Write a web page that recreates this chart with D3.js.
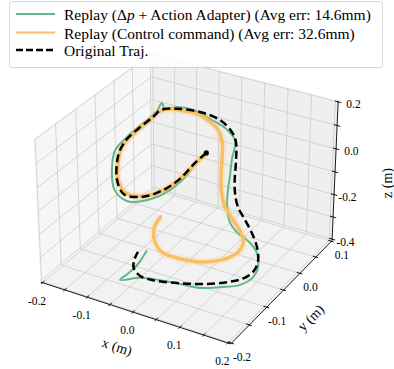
<!DOCTYPE html>
<html><head><meta charset="utf-8">
<script src="https://cdn.jsdelivr.net/npm/d3@7"></script>
<style>
body{margin:0;background:#fff}
svg{display:block}
text{font-family:"Liberation Serif","Times New Roman",serif;fill:#000}
</style>
</head><body>
<svg id="c" width="394" height="369"></svg>
<script>
// ---------------- data ----------------
const xLim = [-0.204, 0.206], yLim = [-0.202, 0.102], zLim = [-0.407, 0.204];
const xTicks = [-0.2,-0.15,-0.1,-0.05,0,0.05,0.1,0.15,0.2];
const xTickLabels = ["-0.2","","-0.1","","0.0","","0.1","","0.2"];
const yTicks = [-0.2,-0.15,-0.1,-0.05,0,0.05,0.1];
const yTickLabels = ["-0.2","","-0.1","","0.0","","0.1"];
const zTicks = [-0.4,-0.3,-0.2,-0.1,0,0.1,0.2];
const zTickLabels = ["-0.4","","-0.2","","0.0","","0.2"];
const axisLabels = ["x (m)","y (m)","z (m)"];

// Original trajectory
const origX = [0,-0.003,-0.020,-0.042,-0.072,-0.104,-0.122,-0.130,-0.131,-0.125,-0.109,-0.093,-0.083,-0.058,-0.019,0.018,0.043,0.054,0.064,0.070,0.077,0.088,0.106,0.130,0.145,0.160,0.158,0.146,0.122,0.085,0.040,0.000,-0.023,-0.037,-0.040,-0.038];
const origY = [0,-0.028,-0.049,-0.067,-0.085,-0.097,-0.093,-0.083,-0.073,-0.061,-0.045,-0.030,-0.020,-0.008,0.006,0.015,0.016,0.013,0.000,-0.011,-0.019,-0.025,-0.028,-0.041,-0.046,-0.063,-0.072,-0.084,-0.097,-0.114,-0.133,-0.148,-0.154,-0.154,-0.149,-0.141];
const origZ = [0,-0.008,-0.060,-0.096,-0.118,-0.109,-0.063,-0.008,0.034,0.070,0.108,0.141,0.164,0.167,0.157,0.131,0.092,0.060,-0.008,-0.063,-0.105,-0.151,-0.193,-0.217,-0.262,-0.285,-0.320,-0.342,-0.355,-0.362,-0.358,-0.349,-0.336,-0.310,-0.285,-0.259];

// Replay (Δp + Action Adapter)
const adaptX = [0,-0.002,-0.018,-0.040,-0.070,-0.096,-0.121,-0.136,-0.139,-0.126,-0.106,-0.090,-0.085,-0.077,-0.058,-0.031,0.001,0.030,0.052,0.056,0.060,0.063,0.069,0.082,0.108,0.132,0.155,0.163,0.160,0.142,0.111,0.079,0.045,0.011,-0.022,-0.054,-0.045,-0.033,-0.024];
const adaptY = [0,-0.030,-0.050,-0.069,-0.088,-0.099,-0.101,-0.089,-0.076,-0.060,-0.041,-0.025,-0.015,-0.017,-0.007,0.002,0.009,0.014,0.013,-0.001,-0.011,-0.020,-0.031,-0.040,-0.051,-0.048,-0.060,-0.067,-0.077,-0.090,-0.106,-0.120,-0.131,-0.143,-0.155,-0.170,-0.162,-0.150,-0.134];
const adaptZ = [0,-0.015,-0.070,-0.109,-0.131,-0.131,-0.096,-0.021,0.034,0.076,0.121,0.157,0.186,0.164,0.173,0.164,0.134,0.105,0.066,0.002,-0.047,-0.089,-0.144,-0.199,-0.217,-0.249,-0.262,-0.307,-0.339,-0.365,-0.371,-0.374,-0.362,-0.349,-0.342,-0.349,-0.330,-0.301,-0.253];

// Replay (Control command)
const ctrlX = [0,-0.002,-0.020,-0.042,-0.072,-0.101,-0.120,-0.128,-0.130,-0.123,-0.108,-0.093,-0.084,-0.069,-0.044,-0.017,0.002,0.019,0.032,0.041,0.048,0.055,0.067,0.086,0.115,0.121,0.124,0.110,0.088,0.067,0.033,0.001,-0.025,-0.039,-0.034];
const ctrlY = [0,-0.029,-0.049,-0.067,-0.085,-0.095,-0.092,-0.082,-0.072,-0.061,-0.044,-0.030,-0.021,-0.013,-0.004,0.004,0.007,0.008,0.003,-0.010,-0.021,-0.028,-0.034,-0.036,-0.049,-0.054,-0.072,-0.083,-0.095,-0.104,-0.116,-0.125,-0.113,-0.096,-0.085];
const ctrlZ = [0,-0.011,-0.060,-0.096,-0.115,-0.105,-0.063,-0.008,0.034,0.070,0.108,0.141,0.160,0.167,0.160,0.147,0.125,0.099,0.057,-0.008,-0.063,-0.105,-0.151,-0.193,-0.223,-0.252,-0.259,-0.278,-0.288,-0.291,-0.281,-0.259,-0.239,-0.219,-0.183];

const legendParts = [
  [["Replay (Δ",false],["p",true],[" + Action Adapter) (Avg err: 14.6mm)",false]],
  [["Replay (Control command) (Avg err: 32.6mm)",false]],
  [["Original Traj.",false]]
];
const colors = {adapt:"#62b687", ctrl:"#f9bf62", orig:"#000000"};

// ---------------- projection (mpl-like 3D) ----------------
const elev = 30, azim = -60, dist = 10;
const box = [8/7, 8/7, 6/7];
const sx = d3.scaleLinear().domain(xLim).range([0, box[0]]);
const sy = d3.scaleLinear().domain(yLim).range([0, box[1]]);
const sz = d3.scaleLinear().domain(zLim).range([0, box[2]]);
const px = d3.scaleLinear().domain([-0.095, 0.09]).range([8.0, 360.45]);
const py = d3.scaleLinear().domain([-0.095, 0.09]).range([372.8, 20.35]);
const er = elev*Math.PI/180, ar = azim*Math.PI/180;
const W = [Math.cos(er)*Math.cos(ar), Math.cos(er)*Math.sin(ar), Math.sin(er)];
let U = [-W[1], W[0], 0]; const un = Math.hypot(U[0], U[1]); U = U.map(v => v/un);
const V = [W[1]*U[2]-W[2]*U[1], W[2]*U[0]-W[0]*U[2], W[0]*U[1]-W[1]*U[0]];
const dot = (p,q) => p[0]*q[0]+p[1]*q[1]+p[2]*q[2];
function proj(x, y, z) {
  const d = [sx(x)-box[0]/2, sy(y)-box[1]/2, sz(z)-box[2]/2];
  const den = dist - dot(W, d);
  return [px(dot(U, d)/den), py(dot(V, d)/den)];
}

const svg = d3.select("#c");
const line2 = d3.line();
const [x0, x1] = xLim, [y0, y1] = yLim, [z0, z1] = zLim;

// panes
const panes = [
  {pts:[[x0,y0,z0],[x0,y1,z0],[x0,y1,z1],[x0,y0,z1]], fill:"#f6f6f6"},
  {pts:[[x0,y1,z0],[x1,y1,z0],[x1,y1,z1],[x0,y1,z1]], fill:"#efefef"},
  {pts:[[x0,y0,z0],[x1,y0,z0],[x1,y1,z0],[x0,y1,z0]], fill:"#f2f2f2"}
];
svg.append("g").selectAll("path").data(panes).join("path")
  .attr("d", p => line2(p.pts.map(q => proj(...q))) + "Z")
  .attr("fill", p => p.fill).attr("stroke", "#f4f4f4").attr("stroke-width", 0.8);

// grid
const grid = svg.append("g").attr("fill","none").attr("stroke","#cbcbcb").attr("stroke-width",0.8);
xTicks.forEach(t => grid.append("path").attr("d", line2([[t,y0,z0],[t,y1,z0],[t,y1,z1]].map(q=>proj(...q)))));
yTicks.forEach(t => grid.append("path").attr("d", line2([[x1,t,z0],[x0,t,z0],[x0,t,z1]].map(q=>proj(...q)))));
zTicks.forEach(t => grid.append("path").attr("d", line2([[x0,y0,t],[x0,y1,t],[x1,y1,t]].map(q=>proj(...q)))));

// axis lines
const ax = svg.append("g").attr("stroke","#000").attr("stroke-width",0.9).attr("fill","none");
ax.append("path").attr("d", line2([proj(x0,y0,z0), proj(x1,y0,z0)]));
ax.append("path").attr("d", line2([proj(x1,y0,z0), proj(x1,y1,z0)]));
ax.append("path").attr("d", line2([proj(x1,y1,z0), proj(x1,y1,z1)]));
const dx = (x1-x0)/12, dy = (y1-y0)/12;
xTicks.forEach(t => ax.append("path").attr("d", line2([proj(t, y0+0.2*dy, z0), proj(t, y0-0.15*dy, z0)])));
yTicks.forEach(t => ax.append("path").attr("d", line2([proj(x1-0.2*dx, t, z0), proj(x1+0.15*dx, t, z0)])));
zTicks.forEach(t => ax.append("path").attr("d", line2([proj(x1-0.2*dx, y1, t), proj(x1+0.2*dx, y1, t)])));

// tick labels
const tl = svg.append("g").attr("font-size", 11.5);
xTicks.forEach((t,i) => { if (!xTickLabels[i]) return; const p = proj(t,y0,z0);
  tl.append("text").attr("x", p[0]-5.5).attr("y", p[1]+18).attr("text-anchor","middle").attr("dominant-baseline","central").text(xTickLabels[i]); });
yTicks.forEach((t,i) => { if (!yTickLabels[i]) return; const p = proj(x1,t,z0);
  tl.append("text").attr("x", p[0]+10.5).attr("y", p[1]+13.5).attr("text-anchor","middle").attr("dominant-baseline","central").text(yTickLabels[i]); });
zTicks.forEach((t,i) => { if (!zTickLabels[i]) return; const p = proj(x1,y1,t);
  tl.append("text").attr("x", p[0]+22.5).attr("y", p[1]+2.5).attr("text-anchor","end").attr("dominant-baseline","central").text(zTickLabels[i]); });

// axis labels
const al = svg.append("g").attr("font-size", 14).attr("text-anchor","middle").attr("dominant-baseline","central");
al.append("text").attr("transform","translate(117,347) rotate(18)").text(axisLabels[0]);
al.append("text").attr("transform","translate(311,318) rotate(-45)").text(axisLabels[1]);
al.append("text").attr("transform","translate(387,183) rotate(-90)").text(axisLabels[2]);

// trajectories
const curve = d3.line().curve(d3.curveCatmullRom.alpha(0.5));
const pts = (X,Y,Z) => X.map((v,i) => proj(v, Y[i], Z[i]));
const traj = svg.append("g").attr("fill","none").attr("stroke-linejoin","round");
traj.append("path").attr("d", curve(pts(adaptX,adaptY,adaptZ))).attr("stroke", colors.adapt).attr("stroke-width", 2);
traj.append("path").attr("d", curve(pts(ctrlX,ctrlY,ctrlZ))).attr("stroke", colors.ctrl).attr("stroke-width", 8).attr("stroke-opacity", 0.15);
traj.append("path").attr("d", curve(pts(ctrlX,ctrlY,ctrlZ))).attr("stroke", colors.ctrl).attr("stroke-width", 3.5).attr("stroke-linecap","round");
traj.append("path").attr("d", curve(pts(origX,origY,origZ))).attr("stroke", colors.orig).attr("stroke-width", 2.5).attr("stroke-dasharray","8,4");
const s0 = proj(origX[0], origY[0], origZ[0]);
svg.append("circle").attr("cx", s0[0]).attr("cy", s0[1]).attr("r", 2.6).attr("fill","#000");

// legend
const lg = svg.append("g");
lg.append("rect").attr("x",9.5).attr("y",1.5).attr("width",373).attr("height",66).attr("rx",3)
  .attr("fill","#fff").attr("fill-opacity",0.85).attr("stroke","#cccccc").attr("stroke-width",0.8);
const rowsY = [14, 32.5, 50];
const handleStyles = [
  {c:colors.adapt, w:2, dash:null},
  {c:colors.ctrl, w:2, dash:null},
  {c:colors.orig, w:2.5, dash:"7,3"}
];
legendParts.forEach((parts,i) => {
  const h = handleStyles[i];
  const l = lg.append("line").attr("x1",16).attr("x2",55).attr("y1",rowsY[i]).attr("y2",rowsY[i])
    .attr("stroke",h.c).attr("stroke-width",h.w);
  if (h.dash) l.attr("stroke-dasharray",h.dash);
  const t = lg.append("text").attr("x",64).attr("y",rowsY[i]).attr("dominant-baseline","central").attr("font-size",15.5);
  parts.forEach(([s,it]) => { const ts = t.append("tspan").text(s); if (it) ts.attr("font-style","italic"); });
});
</script>
</body></html>
